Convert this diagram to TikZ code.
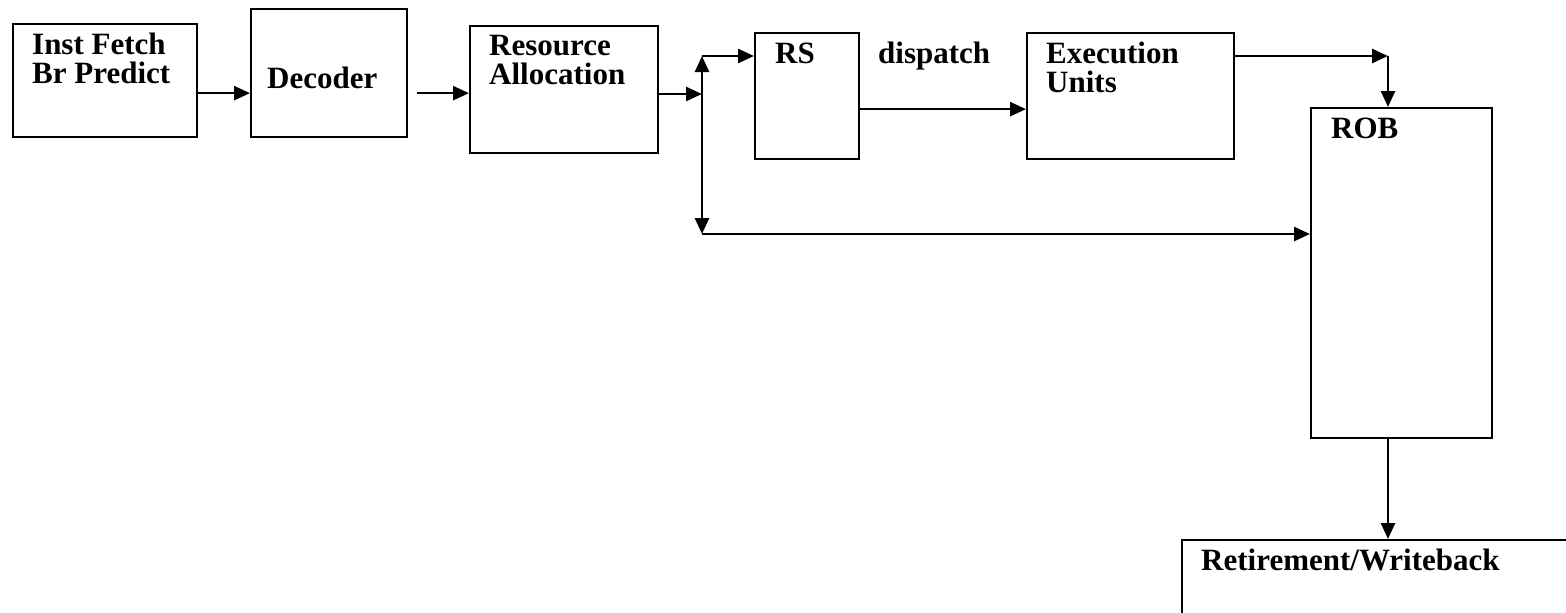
\documentclass[tikz,border=0pt]{standalone}
\usepackage{fontspec}
\setmainfont{Liberation Serif}
\usetikzlibrary{arrows.meta}
\begin{document}
\begin{tikzpicture}[x=1pt,y=-1pt,
  stage/.style={draw, line width=2.3pt, inner sep=0pt, anchor=north west},
  lbl/.style={font=\fontsize{31}{28.5}\selectfont\bfseries, inner sep=0pt,
              anchor=base west, align=left},
  flow/.style={line width=2.6pt, -{Triangle[length=16pt,width=14pt]}},
]
\useasboundingbox (0,0) rectangle (1566,613);
\fill[white] (0,0) rectangle (1566,613);
\clip (0,0) rectangle (1566,613);

% pipeline stages
\node[stage, minimum width=184pt, minimum height=113pt] (fetch) at (12,23) {};
\node[stage, minimum width=156pt, minimum height=128pt] (dec)   at (250,8) {};
\node[stage, minimum width=188pt, minimum height=127pt] (ra)    at (469,25) {};
\node[stage, minimum width=104pt, minimum height=126pt] (rs)    at (754,32) {};
\node[stage, minimum width=207pt, minimum height=126pt] (exu)   at (1026,32) {};
\node[stage, minimum width=181pt, minimum height=330pt] (rob)   at (1310,107) {};
\node[stage, minimum width=420pt, minimum height=120pt] (ret)   at (1181,539) {};

% stage titles (anchored at the baseline of the last line)
\node[lbl] (tfetch) at (32,83)   {Inst Fetch\\Br Predict};
\node[lbl] (tdec)   at (267,88)  {Decoder};
\node[lbl] (tra)    at (489,84)  {Resource\\Allocation};
\node[lbl] (trs)    at (775,63)  {RS};
\node[lbl] (disp)   at (878,63)  {dispatch};
\node[lbl] (texu)   at (1046,92) {Execution\\Units};
\node[lbl] (trob)   at (1331,138) {ROB};
\node[lbl] (tret)   at (1201,570) {Retirement/Writeback};

% routing points
\coordinate (j)     at (702,94);
\coordinate (jt)    at (702,56);
\coordinate (jb)    at (702,234);
\coordinate (eturn) at (1388,56);
\path ([yshift=-12.5pt]fetch.east) coordinate (fo);
\path ([shift={(9pt,-20pt)}]dec.east) coordinate (do);
\path ([yshift=-13pt]rs.east) coordinate (ro);

% connectors
\draw[flow] (fo) -- (fo -| dec.west);
\draw[flow] (do) -- (do -| ra.west);
\draw[flow] (ra.east |- j) -- (j);
\draw[flow] (j) -- (jt);
\draw[flow] (jt) -- (jt -| rs.west);
\draw[flow] (j) -- (jb);
\draw[flow] (jb) -- (jb -| rob.west);
\draw[flow] (ro) -- (ro -| exu.west);
\draw[flow] (exu.east |- eturn) -- (eturn);
\draw[flow] (eturn) -- (eturn |- rob.north);
\draw[flow] (eturn |- rob.south) -- (eturn |- ret.north);
\end{tikzpicture}
\end{document}
